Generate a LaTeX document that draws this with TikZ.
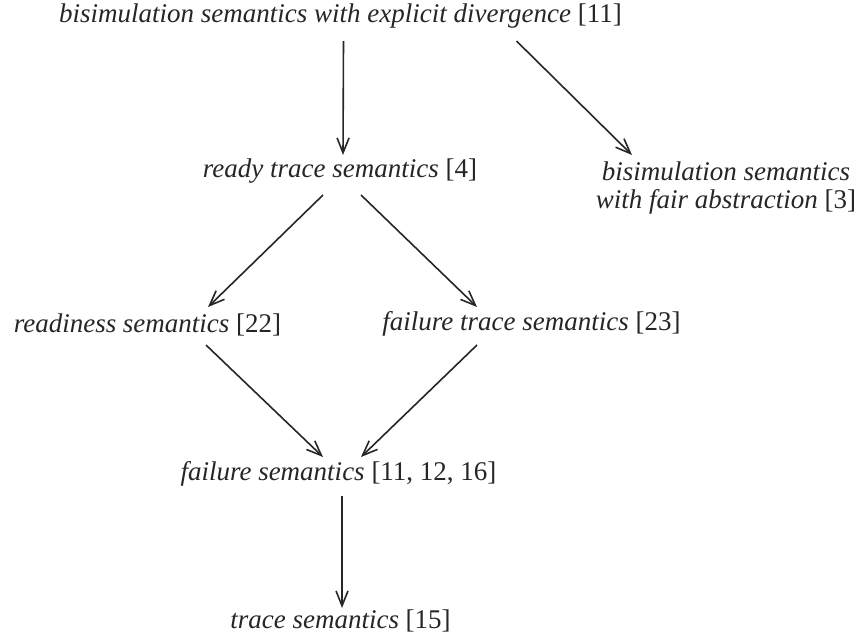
\documentclass[tikz,border=0pt]{standalone}
\usepackage{fontspec}
\setmainfont{Liberation Serif}
\usetikzlibrary{arrows.meta}
\definecolor{ink}{HTML}{262626}
\tikzset{
  sem/.style={anchor=base,inner sep=0pt,text=ink,font=\fontsize{27}{28}\selectfont},
  imp/.style={-{Straight Barb[length=15pt,width=12pt]},line width=1.6pt,draw=ink},
}
\begin{document}
\begin{tikzpicture}[x=1pt,y=-1pt]
\useasboundingbox (0,0) rectangle (861,638);
\node[sem] (top) at (340.5,22) {\textit{bisimulation semantics with explicit divergence} [11]};
\node[sem] (ready) at (340,177) {\textit{ready trace semantics} [4]};
\node[sem,align=center] (fair) at (726,208) {\textit{bisimulation semantics}\\\textit{with fair abstraction} [3]};
\node[sem] (readiness) at (147.5,332) {\textit{readiness semantics} [22]};
\node[sem] (ftrace) at (531.5,330) {\textit{failure trace semantics} [23]};
\node[sem] (failure) at (338.5,480) {\textit{failure semantics} [11, 12, 16]};
\node[sem] (trace) at (340.5,628) {\textit{trace semantics} [15]};
% implications
\draw[imp] ([shift={(3,19)}]top.base) -- ([shift={(3,-22)}]ready.base);
\draw[imp] ([shift={(176,19)}]top.base) -- ([shift={(-94,-53)}]fair.base);
\draw[imp] ([shift={(-17,18)}]ready.base) -- ([shift={(60.5,-25)}]readiness.base);
\draw[imp] ([shift={(21,18)}]ready.base) -- ([shift={(-54.5,-23)}]ftrace.base);
\draw[imp] ([shift={(58.5,13)}]readiness.base) -- ([shift={(-15.5,-23)}]failure.base);
\draw[imp] ([shift={(-54.5,15)}]ftrace.base) -- ([shift={(22.5,-23)}]failure.base);
\draw[imp] ([shift={(3.5,16)}]failure.base) -- ([shift={(1.5,-20)}]trace.base);
\end{tikzpicture}
\end{document}
